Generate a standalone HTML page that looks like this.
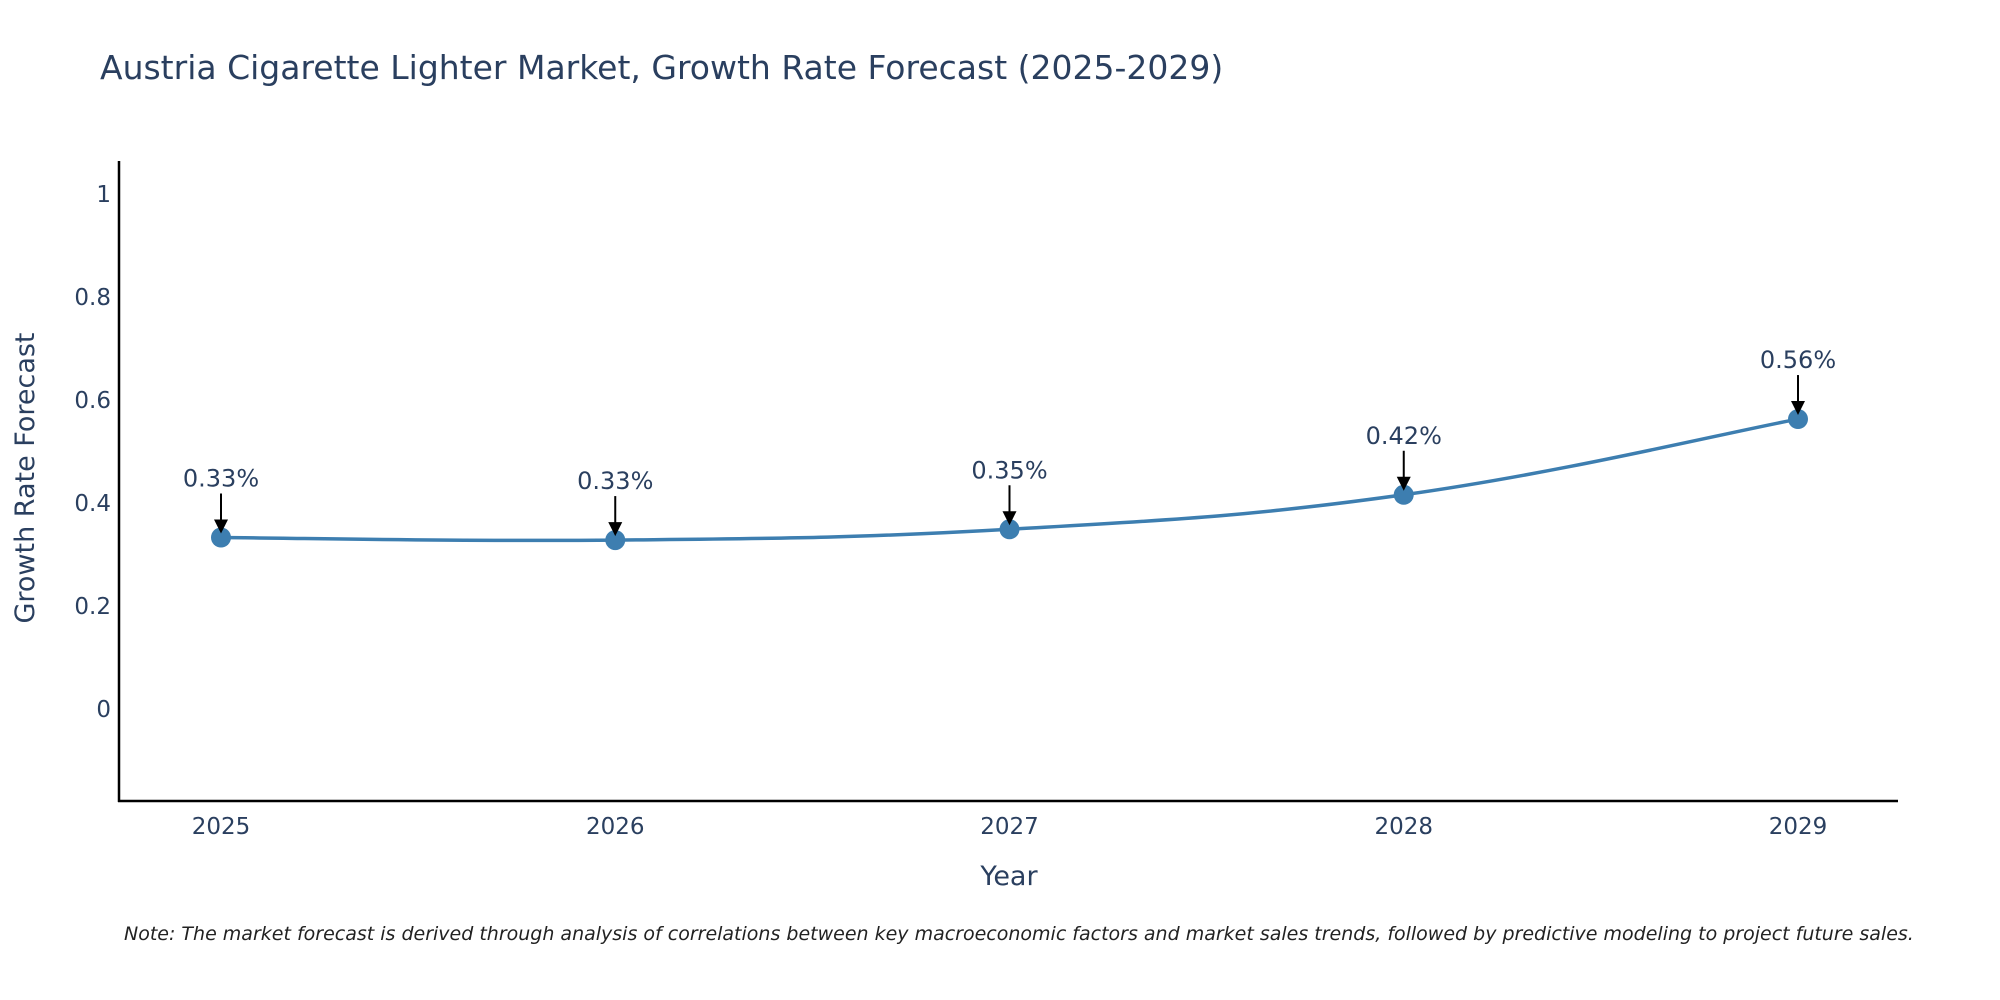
<!DOCTYPE html>
<html><head><meta charset="utf-8">
<style>
body{margin:0;background:#fff;}
svg{display:block;font-family:"DejaVu Sans","Liberation Sans",sans-serif;}
</style></head>
<body>
<svg id="chart" width="2000" height="1000" viewBox="0 0 2000 1000">
<text x="100" y="79" font-size="33" fill="#2a3f5f">Austria Cigarette Lighter Market, Growth Rate Forecast (2025-2029)</text>
<g id="yticks"></g>
<g id="xticks"></g>
<line x1="119" y1="161" x2="119" y2="802" stroke="#000" stroke-width="2.5"/>
<line x1="118" y1="801" x2="1898" y2="801" stroke="#000" stroke-width="2.5"/>
<path id="line" fill="none" stroke="#3d7eb0" stroke-width="3.5"/>
<g id="points"></g>
<g id="annots"></g>
<text x="0" y="0" transform="translate(34,478) rotate(-90)" text-anchor="middle" font-size="27" fill="#2a3f5f">Growth Rate Forecast</text>
<text x="1009" y="885" text-anchor="middle" font-size="27" fill="#2a3f5f">Year</text>
<text x="124" y="940" font-size="19" font-style="italic" fill="#222">Note: The market forecast is derived through analysis of correlations between key macroeconomic factors and market sales trends, followed by predictive modeling to project future sales.</text>
</svg>
<script>
const years=["2025","2026","2027","2028","2029"];
const values=[0.333,0.328,0.349,0.416,0.563];
const labels=["0.33%","0.33%","0.35%","0.42%","0.56%"];
const yTicks=[0,0.2,0.4,0.6,0.8,1];
const yTickLabels=["0","0.2","0.4","0.6","0.8","1"];
const NS="http://www.w3.org/2000/svg";
function X(i){return 221+i*(1798-221)/(years.length-1);}
function Y(v){return 709-v*(709-194);}
function mk(tag,attrs,parent){const e=document.createElementNS(NS,tag);for(const k in attrs)e.setAttribute(k,attrs[k]);parent.appendChild(e);return e;}
const yt=document.getElementById('yticks');
yTicks.forEach((t,i)=>{const e=mk('text',{x:111,y:Y(t)+8,'text-anchor':'end','font-size':23,fill:'#2a3f5f'},yt);


e.textContent=yTickLabels[i];});
const xt=document.getElementById('xticks');
years.forEach((y,i)=>{const e=mk('text',{x:X(i),y:834,'text-anchor':'middle','font-size':23,fill:'#2a3f5f'},xt);


e.textContent=y;});
const pts=values.map((v,i)=>[X(i),Y(v)]);
let d=`M${pts[0][0]},${pts[0][1]}`;
for(let i=0;i<pts.length-1;i++){const p0=pts[Math.max(0,i-1)],p1=pts[i],p2=pts[i+1],p3=pts[Math.min(pts.length-1,i+2)];const s=0.2;
d+=` C${p1[0]+(p2[0]-p0[0])*s},${p1[1]+(p2[1]-p0[1])*s} ${p2[0]-(p3[0]-p1[0])*s},${p2[1]-(p3[1]-p1[1])*s} ${p2[0]},${p2[1]}`;}
document.getElementById('line').setAttribute('d',d);
const pg=document.getElementById('points'),ag=document.getElementById('annots');
pts.forEach((p,i)=>{const c=mk('circle',{cx:p[0],cy:p[1],r:10,fill:'#3d7eb0'},pg);


const l=mk('line',{x1:p[0],y1:p[1]-44,x2:p[0],y2:p[1]-14,stroke:'#000','stroke-width':2},ag);


const h=mk('polygon',{points:`${p[0]-7},${p[1]-18} ${p[0]+7},${p[1]-18} ${p[0]},${p[1]-4}`,fill:'#000'},ag);


const t=mk('text',{x:p[0],y:p[1]-51,'text-anchor':'middle','font-size':24,fill:'#2a3f5f'},ag);


t.textContent=labels[i];});
</script>
</body></html>
